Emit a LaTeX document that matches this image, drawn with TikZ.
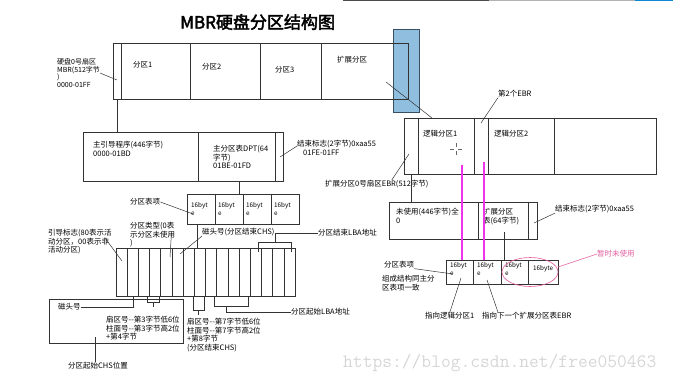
\documentclass[tikz,border=0pt]{standalone}
\usepackage{fontspec}
\setmainfont{Noto Sans CJK SC}[AutoFakeBold=2.5]
\usetikzlibrary{positioning}

\definecolor{extblue}{RGB}{143,190,222}
\definecolor{extedge}{RGB}{55,80,100}
\definecolor{hotpink}{RGB}{240,50,235}
\definecolor{notepink}{RGB}{228,95,160}
\definecolor{wmgray}{RGB}{214,214,214}

\tikzset{
  box/.style={draw=black!80, line width=0.6pt},
  lead/.style={draw=black!80, line width=0.5pt},
  lbl/.style={font=\fontsize{7.5}{8.6}\selectfont, inner sep=0pt, align=left, anchor=north west},
  one/.style={font=\fontsize{7.5}{8.6}\selectfont, inner sep=0pt, anchor=west},
  byt/.style={font=\fontsize{6.3}{8}\selectfont, inner sep=0pt, align=left, anchor=north west},
  pinkln/.style={draw=hotpink, line width=2.2pt},
}

\begin{document}
\begin{tikzpicture}[x=1pt, y=-1pt]
  \useasboundingbox (0,0) rectangle (673,384);
  % player bar along the top edge
  \draw[line width=1.4pt, black!70] (343,0.7) -- (489,0.7);
  \draw[line width=1.4pt, black!30] (489,0.7) -- (635,0.7);
  \draw[line width=1.4pt, cyan!70!blue] (635,0.7) -- (673,0.7);

  % title
  \node[font=\fontsize{17}{19}\selectfont\bfseries, inner sep=0pt, anchor=west] (title) at (180,22) {MBR硬盘分区结构图};

  % whole disk
  \node[box, draw=extedge, fill=extblue, minimum width=26, minimum height=83, anchor=north west] (extmark) at (393,29) {};
  \node[box, minimum width=295, minimum height=56, anchor=north west] (disk) at (113,43) {};
  \foreach \dx in {121,190,260,321}
    \draw[box] (\dx,43) -- (\dx,99);
  \node[one] (part1) at (133,65) {分区1};
  \node[one] (part2) at (202,67) {分区2};
  \node[one] (part3) at (275,70) {分区3};
  \node[one] (extpart) at (337,60) {扩展分区};
  \node[lbl, font=\fontsize{7}{7.9}\selectfont] (mbrlbl) at (57,58) {硬盘0号扇区\\MBR(512字节\\)\\0000-01FF};
  \coordinate (mbrcol) at (117,80);
  \draw[lead] (mbrlbl.east) -- (mbrcol);

  % MBR sector
  \node[box, minimum width=200, minimum height=49, anchor=north west] (boot) at (83,132) {};
  \draw[box] (198,132) -- (198,181);
  \draw[box] (275,132) -- (275,181);
  \draw[box] ([xshift=4]disk.south west) -- ([xshift=34]boot.north west);
  \node[lbl] (bootcode) at (93,141) {主引导程序(446字节)\\0000-01BD};
  \node[lbl] (dpt) at (213,145) {主分区表DPT(64\\字节)\\01BE-01FD};
  \node[lbl] (endlbl) at (297,140) {结束标志(2字节)0xaa55\\\hspace*{6pt}01FE-01FF};
  \coordinate (bootend) at (280,157);
  \draw[lead] (bootend) -- ([yshift=-6]endlbl.north west);

  % partition table entries
  \node[box, minimum width=112, minimum height=30, anchor=north west] (tbl) at (187,194) {};
  \foreach \dx in {215,243,271}
    \draw[box] (\dx,194) -- (\dx,224);
  \foreach \dx in {191,218,246,274}
    \node[byt] at (\dx,202) {16byt\\e};
  \coordinate (dptbot) at (239,181);
  \draw[box] (dptbot) -- (dptbot |- tbl.north);
  \node[one] (tbllbl) at (130,202) {分区表项};
  \draw[lead] (tbllbl.east) -- (193,214);

  % 16 bytes of one entry
  \node[box, minimum width=179, minimum height=48, anchor=north west] (cols) at (116,248) {};
  \foreach \i in {1,...,15}
    \draw[box] (116+11.19*\i,248) -- (116+11.19*\i,296);
  \coordinate (e1) at (197,224);
  \draw[box] (e1) -- (e1 |- cols.north);

  % labels above the bytes
  \node[lbl] (bflag) at (48,229) {引导标志(80表示活\\动分区，00表示非\\活动分区)};
  \draw[lead] ([shift={(-7,-4)}]bflag.east) -- (122,261);
  \node[lbl] (ptype) at (130,222) {分区类型(0表\\示分区未使用\\)};
  \draw[lead] ([shift={(-4,-1)}]ptype.east) -- (170,257);
  \node[one] (headend) at (202,232) {磁头号(分区结束CHS)};
  \draw[lead] (headend.south west) -- (180,254);
  \node[one] (lbaend) at (318,233) {分区结束LBA地址};
  \draw[lead] (258,252) -- (258,242) -- (291,242) -- (291,252);
  \draw[lead] (275,242) -- (275,233) -- (lbaend.west);

  % labels below the bytes
  \node[box, minimum width=134, minimum height=44, anchor=north west] (chsbox) at (49,299) {};
  \node[one] (headstart) at (58,307) {磁头号};
  \draw[lead] (headstart.east) -- (133,307) -- (133,296);
  \draw[lead] (147,296) -- (147,302) -- (159,302) -- (159,296);
  \draw[lead] (153,302) -- (153,307);
  \node[lbl] (chsstart) at (106,316) {扇区号-{}-第3字节低6位\\柱面号-{}-第3字节高2位\\+第4字节};
  \node[one] (chslbl) at (68,366) {分区起始CHS位置};
  \coordinate (chsin) at (95,337);
  \draw[lead] (chsin) -- (chsin |- chslbl.north);
  \draw[lead] (193,296) -- (193,310) -- (204,310) -- (204,296);
  \draw[lead] (198,310) -- (198,315);
  \node[lbl] (chsend) at (187,318) {扇区号-{}-第7字节低6位\\柱面号-{}-第7字节高2位\\+第8字节\\(分区结束CHS)};
  \node[one] (lbastart) at (291,312) {分区起始LBA地址};
  \draw[lead] (214,296) -- (214,306) -- (248,306) -- (248,296);
  \draw[lead] (226,306) -- (226,312) -- (lbastart.west);

  % extended partition, first EBR
  \node[box, minimum width=252, minimum height=56, anchor=north west] (ebr) at (404,118) {};
  \foreach \dx in {418,474,488,554}
    \draw[box] (\dx,118) -- (\dx,174);
  \node[one] (log1) at (423,134) {逻辑分区1};
  \node[one] (log2) at (494,134) {逻辑分区2};
  \draw[black!60, line width=0.4pt] (456,143) -- (456,147) (456,151) -- (456,155)
    (450,149) -- (454,149) (458,149) -- (462,149);
  \coordinate (extpt) at (386,82);
  \draw[lead] (extpt) -- ([xshift=28]ebr.north west);
  \node[one] (ebr2lbl) at (498,94) {第2个EBR};
  \draw[lead] (ebr2lbl.south west) -- (481,123);
  \node[one] (ebr0lbl) at (325,184) {扩展分区0号扇区EBR(512字节)};
  \draw[lead] ([xshift=15]ebr0lbl.north) -- (409,154);

  % EBR sector
  \node[box, minimum width=148, minimum height=37, anchor=north west] (ebrsec) at (389,202) {};
  \draw[box] (478,202) -- (478,239);
  \draw[box] (528,202) -- (528,239);
  \draw[box] (411,174) -- (411,202);
  \node[lbl] (unused) at (396,208) {未使用(446字节)全\\0};
  \node[lbl] (ebrtbl) at (483,208) {扩展分区\\表(64字节)};
  \node[one] (endlbl2) at (555,209) {结束标志(2字节)0xaa55};
  \draw[lead] (endlbl2.south west) -- (534,223);

  % EBR partition table
  \node[box, minimum width=112, minimum height=24, anchor=north west] (tbl2) at (446,260) {};
  \foreach \dx in {473,501,528}
    \draw[box] (\dx,260) -- (\dx,284);
  \foreach \dx in {450,477,505}
    \node[byt] at (\dx,262) {16byt\\e};
  \node[byt, anchor=west] at (533,269) {16byte};
  \coordinate (ebrtblbot) at (504,232);
  \draw[box] (ebrtblbot) -- (ebrtblbot |- tbl2.north);
  \coordinate (pk1) at (462,165);
  \coordinate (pk2) at (484,162);
  \draw[pinkln] (pk1) -- (pk1 |- tbl2.north);
  \draw[pinkln] (pk2) -- (pk2 |- tbl2.north);
  \draw[notepink, line width=0.6pt] (530,272) ellipse [x radius=28, y radius=14.5];
  \node[one, text=notepink] (notused) at (597,254) {暂时未使用};
  \draw[notepink, line width=0.6pt] (558,267) -- (notused.west);
  \node[one] (tbl2lbl) at (384,265) {分区表项};
  \draw[lead] (tbl2lbl.south east) -- (453,274);
  \node[lbl] (samelbl) at (382,275) {组成结构同主分\\区表项一致};
  \node[one] (ptr1) at (425,316) {指向逻辑分区1};
  \draw[lead] (ptr1.north) -- (461,278);
  \node[one] (ptr2) at (482,316) {指向下一个扩展分区表EBR};
  \draw[lead] ([xshift=16]ptr2.north west) -- (487,280);

  % watermark
  \node[font=\ttfamily\fontsize{19}{21}\selectfont, text=wmgray, inner sep=0pt, anchor=west] (wm) at (343,363) {https://blog.csdn.net/free050463};
\end{tikzpicture}
\end{document}
